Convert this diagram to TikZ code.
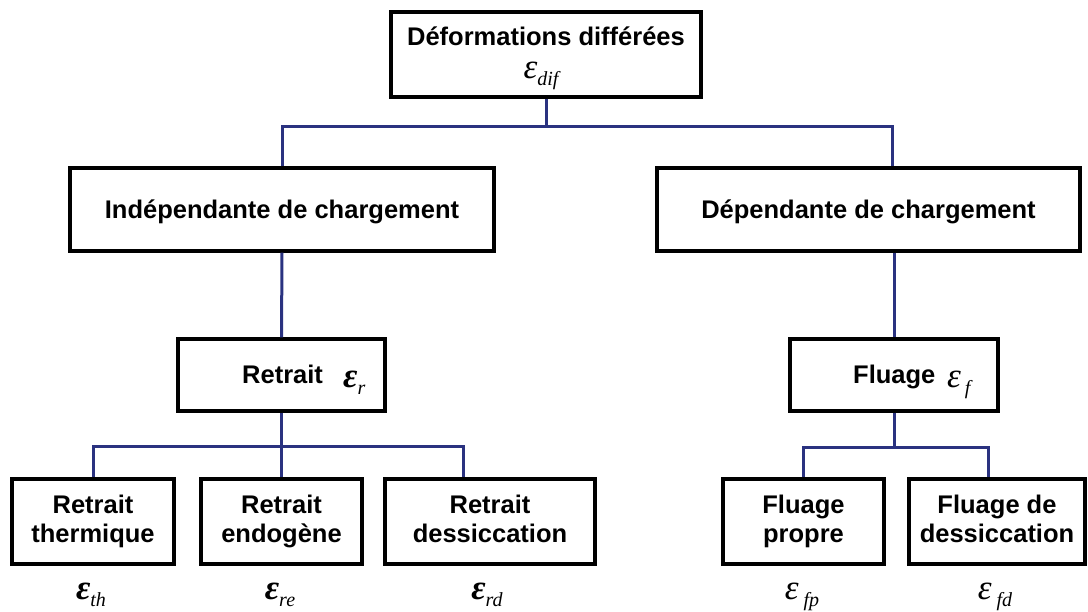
\documentclass[tikz,border=0pt]{standalone}
\usepackage{fontspec}
\setmainfont{Liberation Sans}
\newfontfamily\epsfont{Liberation Serif}
\definecolor{linkblue}{RGB}{42,50,128}
\newcommand\epsB[2][0pt]{{\epsfont\bfseries\itshape\fontsize{35}{35}\selectfont ε}\hspace{#1}\raisebox{-7pt}{\epsfont\itshape\fontsize{20}{20}\selectfont #2}}
\newcommand\epsN[2][0pt]{{\epsfont\itshape\fontsize{35}{35}\selectfont ε}\hspace{#1}\raisebox{-7pt}{\epsfont\itshape\fontsize{20}{20}\selectfont #2}}
\newcommand\ta{\vphantom{l}}
\newcommand\tb{\vphantom{p}}
\begin{document}
\begin{tikzpicture}[x=1pt,y=-1pt,
  box/.style={draw=black, line width=3.2pt, inner sep=0pt, fill=white},
  tx/.style={font=\bfseries\fontsize{25.5}{29.5}\selectfont, align=center, inner sep=0pt},
  conn/.style={draw=linkblue, line width=3pt},
  eps/.style={inner sep=0pt, anchor=base}]
\useasboundingbox (0,0) rectangle (1088,612);
\coordinate (busA) at (546,127);
\coordinate (busR) at (281.5,447);
\coordinate (busF) at (894,448);
% boxes
\node[box, minimum width=310pt, minimum height=85pt] (top) at (546,54.5) {};
\node[tx, anchor=base] (topT) at (546,46) {Déformations différées};
\node[eps] (topE) at (541,79) {\epsN{dif}};
\node[box, tx, minimum width=424pt, minimum height=83pt, text height=18.3pt, text depth=0pt] (indep) at (282,209.5) {Indépendante de chargement};
\node[box, tx, minimum width=423pt, minimum height=83pt, text height=18.3pt, text depth=0pt] (dep) at (868.5,209.5) {Dépendante de chargement};
\node[box, minimum width=207pt, minimum height=72pt] (retrait) at (281.5,375) {};
\node[tx, anchor=base west] (retT) at (242,384) {Retrait};
\node[eps, anchor=base west] (retE) at (343,388) {\epsB{r}};
\node[box, minimum width=208pt, minimum height=72pt] (fluage) at (894,375) {};
\node[tx, anchor=base west] (fluT) at (853,384) {Fluage};
\node[eps, anchor=base west] (fluE) at (947,388) {\epsN[4pt]{f}};
\node[box, tx, minimum width=162pt, minimum height=85pt] (therm) at (93,521.5) {\ta Retrait\\thermique\tb};
\node[box, tx, minimum width=161pt, minimum height=85pt] (endog) at (281.5,521.5) {\ta Retrait\\endogène\tb};
\node[box, tx, minimum width=210pt, minimum height=85pt] (dessR) at (490,521.5) {\ta Retrait\\dessiccation\tb};
\node[box, tx, minimum width=161pt, minimum height=85pt] (propre) at (803.5,521.5) {\ta Fluage\\propre\tb};
\node[box, tx, minimum width=176pt, minimum height=85pt] (dessF) at (997,521.5) {\ta Fluage de\\dessiccation\tb};
% epsilon labels
\node[eps] (eTh) at (91,599) {\epsB{th}};
\node[eps] (eRe) at (280,599) {\epsB{re}};
\node[eps] (eRd) at (487,599) {\epsB{rd}};
\node[eps] (eFp) at (802,599) {\epsN[5pt]{fp}};
\node[eps] (eFd) at (995,599) {\epsN[5pt]{fd}};
% connectors
\draw[conn] (top.south) -- (busA);
\draw[conn] (indep.north) |- (busA) -| ([xshift=24pt]dep.north);
\draw[conn] (indep.south) -- (retrait.north);
\draw[conn] (fluage.north |- dep.south) -- (fluage.north);
\draw[conn] (retrait.south) -- (endog.north);
\draw[conn] (therm.north) |- (busR) -| ([xshift=-27pt]dessR.north);
\draw[conn] (fluage.south) -- (busF);
\draw[conn] (propre.north) |- (busF) -| ([xshift=-9pt]dessF.north);
\end{tikzpicture}
\end{document}
